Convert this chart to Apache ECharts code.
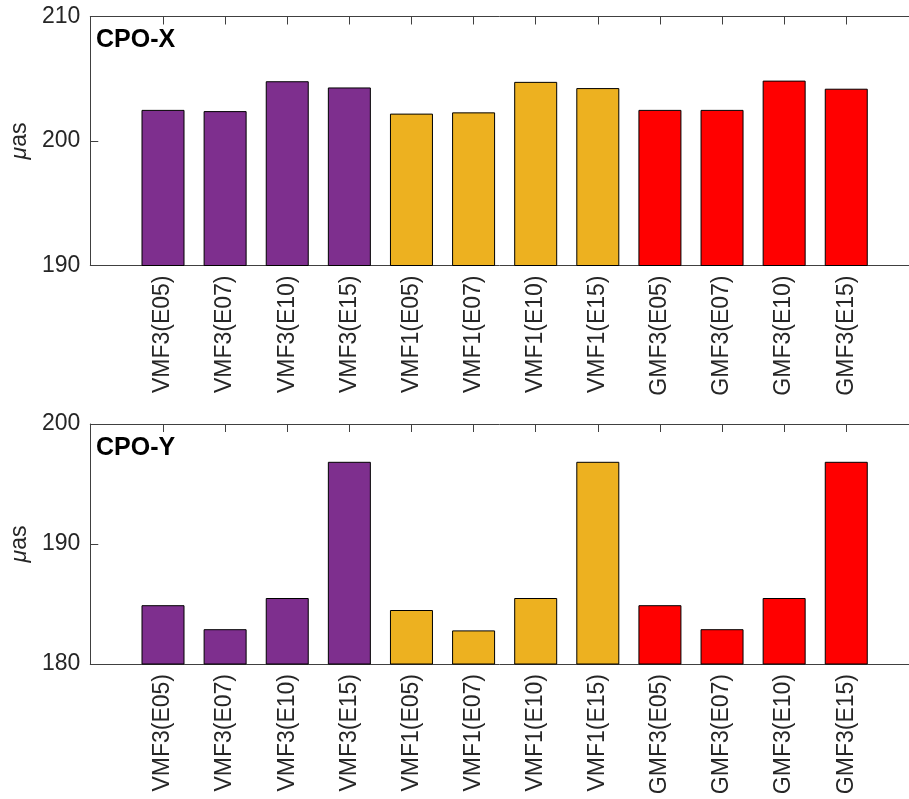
<!DOCTYPE html>
<html>
<head>
<meta charset="utf-8">
<script src="https://cdn.jsdelivr.net/npm/echarts@6/dist/echarts.min.js"></script>
<style>
  html, body { margin: 0; padding: 0; background: #fff; }
  #chart { width: 909px; height: 799px; }
</style>
</head>
<body>
<div id="chart"></div>
<script>
// Mapping functions / elevation cut-offs
const categories = [
  'VMF3(E05)', 'VMF3(E07)', 'VMF3(E10)', 'VMF3(E15)',
  'VMF1(E05)', 'VMF1(E07)', 'VMF1(E10)', 'VMF1(E15)',
  'GMF3(E05)', 'GMF3(E07)', 'GMF3(E10)', 'GMF3(E15)'
];
// Celestial pole offset values, µas
const cpoX = [202.5, 202.4, 204.8, 204.3, 202.2, 202.3, 204.75, 204.25, 202.5, 202.5, 204.85, 204.2];
const cpoY = [184.9, 182.9, 185.5, 196.85, 184.5, 182.8, 185.5, 196.85, 184.9, 182.9, 185.5, 196.85];
const panelTitles = ['CPO-X', 'CPO-Y'];
const yTicksX = [190, 200, 210];
const yTicksY = [180, 190, 200];

const groupColor = { VMF3: '#7E2F8E', VMF1: '#EDB120', GMF3: '#FF0000' };
const FONT = '"Liberation Sans", Arial, Helvetica, sans-serif';
const AXIS_COLOR = '#404040';
const TEXT_COLOR = '#262626';
const positions = categories.map((c, i) => i + 1);

function barData(values) {
  return values.map((v, i) => ({
    value: [positions[i], v],
    itemStyle: { color: groupColor[categories[i].slice(0, 4)] }
  }));
}

function xAxes(gridIndex) {
  const common = {
    type: 'value', gridIndex, min: -0.171, max: 13.01,
    splitLine: { show: false },
    axisLine: { show: true, onZero: false, lineStyle: { color: AXIS_COLOR, width: 1 } }
  };
  return [
    Object.assign({}, common, {
      position: 'bottom',
      axisTick: { show: true, inside: true, length: 8, customValues: positions, lineStyle: { color: AXIS_COLOR } },
      axisLabel: {
        show: true, customValues: positions, rotate: 90, margin: 10,
        fontSize: 23, fontFamily: FONT, color: TEXT_COLOR,
        formatter: v => categories[Math.round(v) - 1] || ''
      }
    }),
    Object.assign({}, common, {
      position: 'top',
      axisTick: { show: true, inside: true, length: 8, customValues: positions, lineStyle: { color: AXIS_COLOR } },
      axisLabel: { show: false }
    })
  ];
}

function yAxis(gridIndex, ticks) {
  return {
    type: 'value', gridIndex,
    min: ticks[0], max: ticks[ticks.length - 1], interval: ticks[1] - ticks[0],
    splitLine: { show: false },
    axisLine: { show: true, onZero: false, lineStyle: { color: AXIS_COLOR, width: 1 } },
    axisTick: { show: true, inside: true, length: 8, lineStyle: { color: AXIS_COLOR } },
    axisLabel: { fontSize: 23, fontFamily: FONT, color: TEXT_COLOR, margin: 10 },
    name: '{i|\u03bc}{n|as}',
    nameLocation: 'middle', nameRotate: 90, nameGap: 56,
    nameTextStyle: {
      fontSize: 23, fontFamily: FONT, color: TEXT_COLOR, fontStyle: 'normal',
      rich: {
        i: { fontSize: 23, fontFamily: FONT, fontStyle: 'italic', color: TEXT_COLOR },
        n: { fontSize: 23, fontFamily: FONT, fontStyle: 'normal', color: TEXT_COLOR }
      }
    }
  };
}

function barSeries(values, xi, yi) {
  return {
    type: 'bar', xAxisIndex: xi, yAxisIndex: yi,
    data: barData(values), barWidth: 43, clip: true,
    itemStyle: { borderColor: '#000', borderWidth: 1 },
    emphasis: { disabled: true }
  };
}

const titleStyle = { fontSize: 25, fontWeight: 'bold', fontFamily: FONT, color: '#000' };

const chart = echarts.init(document.getElementById('chart'), null, { renderer: 'canvas' });
chart.setOption({
  animation: false,
  backgroundColor: '#fff',
  title: [
    { text: panelTitles[0], left: 96, top: 28, padding: 0, textStyle: titleStyle },
    { text: panelTitles[1], left: 96, top: 436, padding: 0, textStyle: titleStyle }
  ],
  grid: [
    { left: 87, right: 0, top: 16.5, height: 249 },
    { left: 87, right: 0, top: 424, height: 240 }
  ],
  xAxis: xAxes(0).concat(xAxes(1)),
  yAxis: [yAxis(0, yTicksX), yAxis(1, yTicksY)],
  series: [barSeries(cpoX, 0, 0), barSeries(cpoY, 2, 1)]
});
</script>
</body>
</html>
